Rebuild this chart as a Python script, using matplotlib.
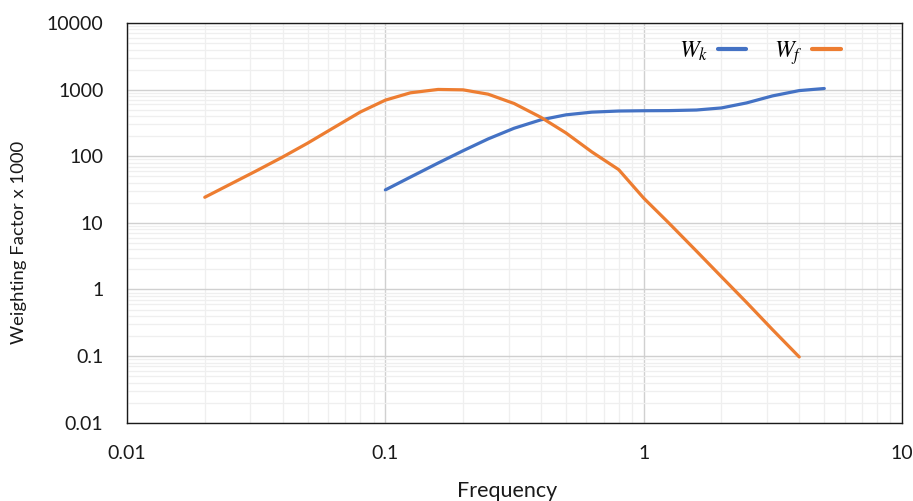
import matplotlib
matplotlib.use("Agg")
import matplotlib.pyplot as plt
from matplotlib.ticker import LogLocator, FixedLocator, FixedFormatter, NullFormatter

# Data (weighting factor x 1000)
freq_k = [0.1, 0.125, 0.16, 0.2, 0.25, 0.315, 0.4, 0.5, 0.63, 0.8, 1.0, 1.25,
          1.6, 2.0, 2.5, 3.15, 4.0, 5.0]
wk = [31.2, 48.6, 79.0, 121, 182, 263, 352, 418, 459, 477, 482, 484,
      494, 531, 631, 804, 967, 1039]

freq_f = [0.02, 0.025, 0.0315, 0.04, 0.05, 0.063, 0.08, 0.1, 0.125, 0.16, 0.2,
          0.25, 0.315, 0.4, 0.5, 0.63, 0.8, 1.0, 1.25, 1.6, 2.0, 2.5, 3.15, 4.0]
wf = [24.2, 37.7, 59.7, 97.1, 157, 267, 461, 695, 895, 1006, 992,
      854, 619, 384, 224, 116, 63.0, 23.5, 9.98, 3.77, 1.55, 0.64, 0.25, 0.097]

x_ticks = [0.01, 0.1, 1, 10]
x_labels = ["0.01", "0.1", "1", "10"]
y_ticks = [0.01, 0.1, 1, 10, 100, 1000, 10000]
y_labels = ["0.01", "0.1", "1", "10", "100", "1000", "10000"]

plt.rcParams['font.family'] = ['Lato', 'DejaVu Sans']
plt.rcParams['mathtext.fontset'] = 'stix'

W, H = 913, 501
fig = plt.figure(figsize=(W / 100, H / 100), dpi=100)
ax = fig.add_axes([0.1391, 0.1563, 0.8489, 0.7978])

ax.set_xscale('log')
ax.set_yscale('log')
ax.set_xlim(0.01, 10)
ax.set_ylim(0.01, 10000)

ax.plot(freq_k, wk, color='#4472C4', lw=2.3, label=r'$W_k$', solid_capstyle='round')
ax.plot(freq_f, wf, color='#ED7D31', lw=2.3, label=r'$W_f$', solid_capstyle='round')

ax.xaxis.set_major_locator(FixedLocator(x_ticks))
ax.xaxis.set_major_formatter(FixedFormatter(x_labels))
ax.yaxis.set_major_locator(FixedLocator(y_ticks))
ax.yaxis.set_major_formatter(FixedFormatter(y_labels))
ax.xaxis.set_minor_locator(LogLocator(base=10, subs=range(2, 10), numticks=20))
ax.yaxis.set_minor_locator(LogLocator(base=10, subs=range(2, 10), numticks=20))
ax.xaxis.set_minor_formatter(NullFormatter())
ax.yaxis.set_minor_formatter(NullFormatter())

ax.grid(which='minor', color='#EFEFEF', lw=0.9)
ax.grid(which='major', color='#D0D0D0', lw=1.0)
ax.set_axisbelow(True)

ax.tick_params(which='both', length=0)
ax.tick_params(axis='x', labelsize=14, pad=16, colors='#1a1a1a')
ax.tick_params(axis='y', labelsize=14, pad=17, colors='#1a1a1a')

for s in ax.spines.values():
    s.set_color('#1a1a1a')
    s.set_linewidth(1.0)

fig.text(507 / W, 1 - 491 / H, 'Frequency', fontsize=15.5, color='#1a1a1a',
         ha='center', va='center')
fig.text(19 / W, 1 - 242 / H, 'Weighting Factor x 1000', fontsize=13.3,
         color='#1a1a1a', ha='center', va='center', rotation=90)

leg = ax.legend(loc='center right', bbox_to_anchor=(0.921, 0.925), frameon=False,
                ncol=2, markerfirst=False, fontsize=17, handlelength=1.2,
                handletextpad=0.4, columnspacing=1.2, borderpad=0, borderaxespad=0)
for h in leg.get_lines():
    h.set_linewidth(3.0)
    h.set_solid_capstyle('round')

fig.savefig('out.png', dpi=100)
